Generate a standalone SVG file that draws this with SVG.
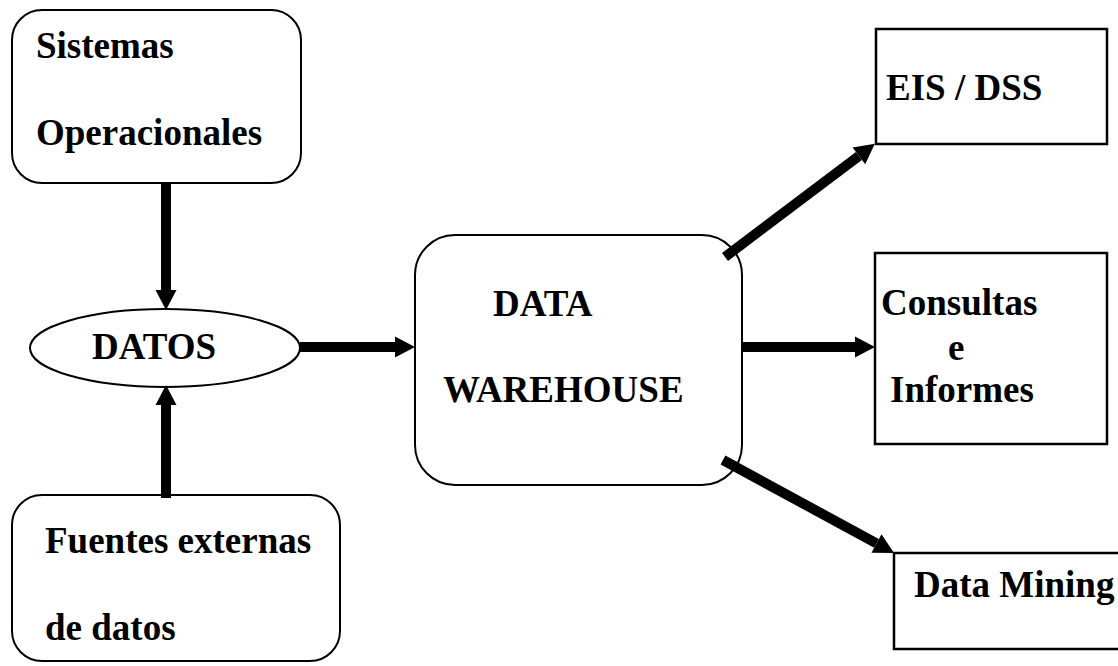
<svg xmlns="http://www.w3.org/2000/svg" width="1118" height="666" viewBox="0 0 1118 666">
<style>
.box{fill:#fff;stroke:#000;stroke-width:2}
.rbox{fill:#fff;stroke:#000;stroke-width:2.5}
.t{font-family:"Liberation Serif","Times New Roman",serif;font-weight:bold;font-size:37px;fill:#000}
.c{stroke:#000;stroke-width:10;fill:none}
</style>
<defs>
<marker id="ah" markerUnits="userSpaceOnUse" markerWidth="20" markerHeight="21" refX="0" refY="10.5" orient="auto" overflow="visible">
<path d="M0,0 L20,10.5 L0,21 z" fill="#000"/>
</marker>
</defs>
<rect width="1118" height="666" fill="#fff"/>
<g id="sistemas">
<rect class="box" x="12" y="10" width="289" height="173" rx="30" ry="30"/>
<text class="t" x="36" y="58">Sistemas</text>
<text class="t" x="36" y="145">Operacionales</text>
</g>
<g id="datos">
<ellipse class="box" cx="165" cy="348" rx="135" ry="39"/>
<text class="t" x="92" y="359">DATOS</text>
</g>
<g id="fuentes">
<rect class="box" x="12" y="495" width="328" height="166" rx="30" ry="30"/>
<text class="t" x="45" y="553">Fuentes externas</text>
<text class="t" x="45" y="640">de datos</text>
</g>
<g id="dw">
<rect class="box" x="415" y="235" width="327" height="250" rx="40" ry="40"/>
<text class="t" x="493" y="316">DATA</text>
<text class="t" x="443" y="402">WAREHOUSE</text>
</g>
<g id="eis">
<rect class="rbox" x="876" y="29" width="231" height="115"/>
<text class="t" x="886" y="100">EIS / DSS</text>
</g>
<g id="consultas">
<rect class="rbox" x="875" y="253" width="232" height="191"/>
<text class="t" x="881" y="315">Consultas</text>
<text class="t" x="948" y="360">e</text>
<text class="t" x="890" y="402">Informes</text>
</g>
<g id="mining">
<rect class="rbox" x="894" y="553" width="230" height="96"/>
<text class="t" x="914" y="597">Data Mining</text>
</g>
<g id="connectors">
<line class="c" x1="166" y1="183" x2="166" y2="290" marker-end="url(#ah)"/>
<line class="c" x1="166" y1="498" x2="166" y2="405" marker-end="url(#ah)"/>
<line class="c" x1="300" y1="347" x2="395" y2="347" marker-end="url(#ah)"/>
<line class="c" x1="742" y1="347" x2="855" y2="347" marker-end="url(#ah)"/>
<line class="c" x1="725" y1="257" x2="858.9" y2="155.9" marker-end="url(#ah)"/>
<line class="c" x1="723" y1="460" x2="876.5" y2="543.4" marker-end="url(#ah)"/>
</g>
</svg>
